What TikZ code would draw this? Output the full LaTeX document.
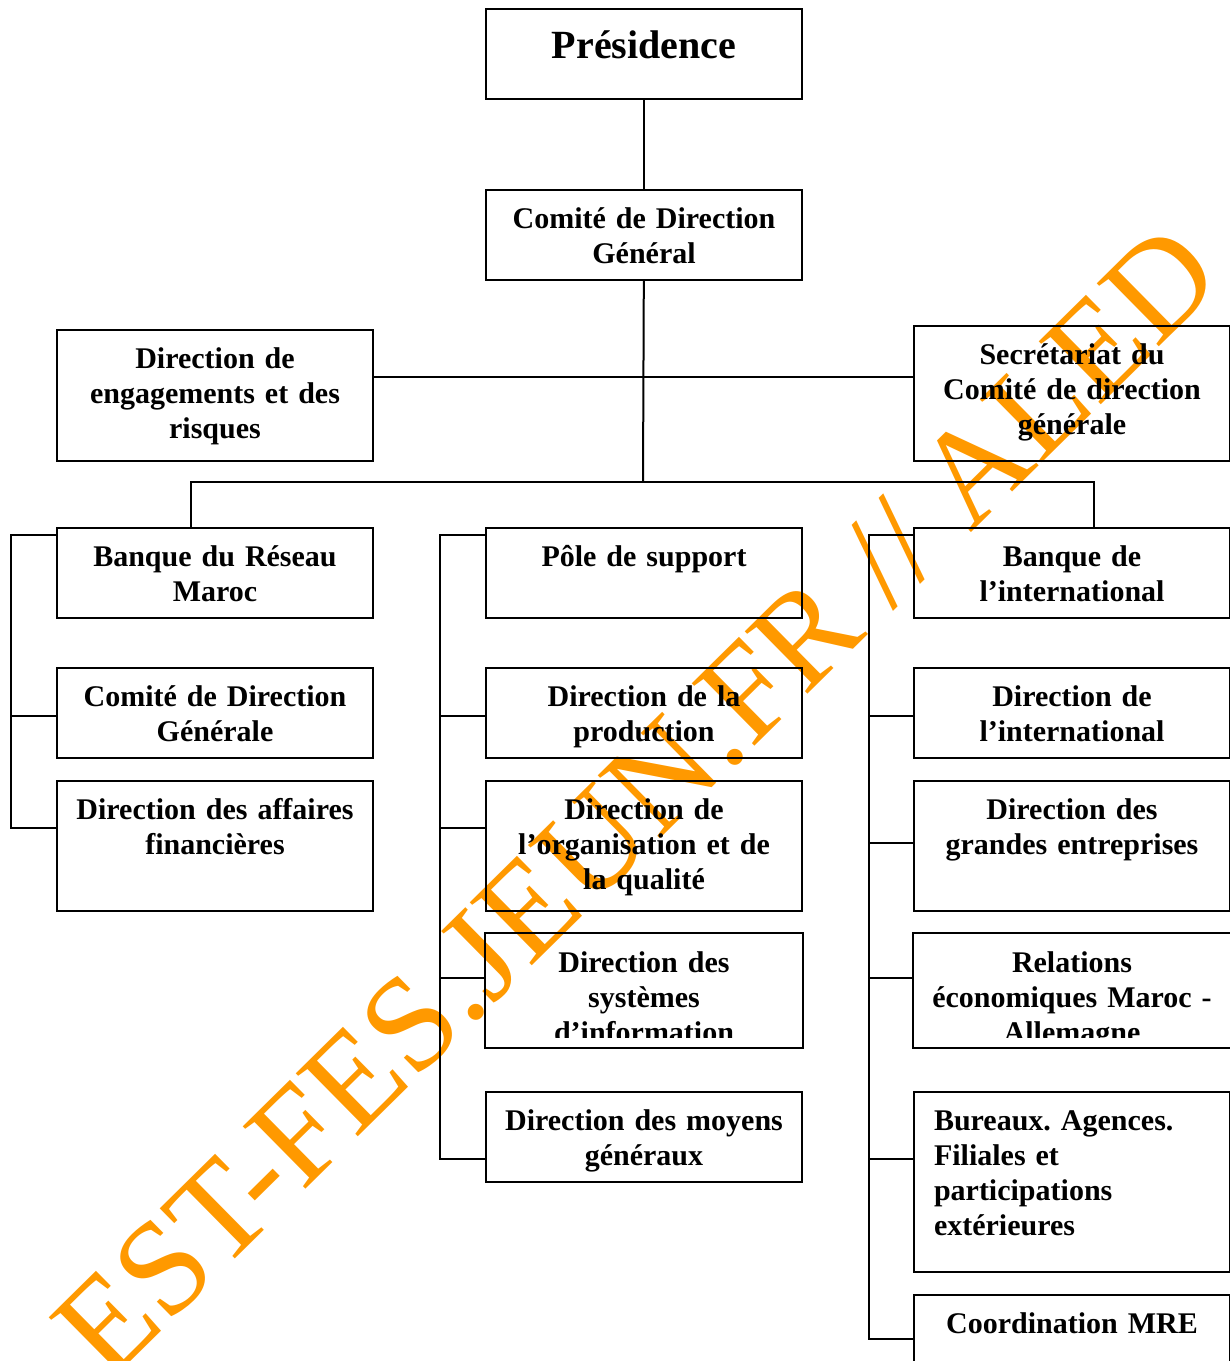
\documentclass[tikz,border=0pt]{standalone}
\usepackage{fontspec}
\setmainfont{Liberation Serif}
\usepackage{tikz}
\usetikzlibrary{positioning}
\definecolor{wmorange}{HTML}{FF9900}
\frenchspacing

\begin{document}
\begin{tikzpicture}[
  x=0.4pt, y=-0.4pt,
  font=\fontsize{12}{14}\selectfont\bfseries,
  box/.style={draw, line width=0.8pt, anchor=north west, minimum width=126.4pt, text width=118pt, align=center, inner xsep=4.2pt, inner ysep=0pt, text height=15.2pt, text depth=#1},
  box/.default=20.8pt,
  link/.style={line width=0.8pt},
  wmark/.style={text=wmorange, font=\fontsize{54}{54}\selectfont, inner sep=0pt}
]
\useasboundingbox (0,0) rectangle (1230,1361);

% watermark, under the chart
\node[wmark, rotate=44.6, anchor=base west] (wm) at (108,1384) {EST-FES.JEUN.FR // ALED};

% top of the chart
\node[box=16.4pt, text height=19.6pt, font=\fontsize{16}{19}\selectfont\bfseries] (pres) at (485,8) {Présidence};
\node[box] (cdg) at (485,189) {Comité de Direction\\Général};
\node[box=37.2pt] (dre) at (56,329) {Direction de\\engagements et des\\risques};
\node[box=38.8pt] (sec) at (913,325) {Secrétariat du\\Comité de direction\\générale};

% left column
\node[box] (brm) at (56,527) {Banque du Réseau\\Maroc};
\node[box, below=19.2pt of brm] (cdgen) {Comité de Direction\\Générale};
\node[box=36.8pt, below=8.4pt of cdgen] (daf) {Direction des affaires\\financières};

% middle column
\node[box] (pole) at (485,527) {Pôle de support};
\node[box, below=19.2pt of pole] (prod) {Direction de la\\production};
\node[box=36.8pt, below=8.4pt of prod] (orga) {Direction de\\l’organisation et de\\la qualité};

% right column
\node[box] (bint) at (913,527) {Banque de\\l’international};
\node[box, below=19.2pt of bint] (dint) {Direction de\\l’international};
\node[box=36.8pt, below=8.4pt of dint] (dge) {Direction des\\grandes entreprises};

% boxes whose last line is cut
\begin{scope}
  \clip (480,930) rectangle (1230,1037);
  \node[box=30pt, draw=none, below=8.4pt of orga] (dsi) {Direction des\\systèmes\\d’information};
  \node[box=30pt, draw=none, below=8.4pt of dge] (rel) {Relations\\économiques Maroc -\\Allemagne};
\end{scope}
\draw[link] (dsi.north west) rectangle (dsi.south east);
\draw[link] (rel.north west) rectangle (rel.south east);

\node[box, below=17.2pt of dsi] (moyens) {Direction des moyens\\généraux};
\node[box=56.8pt, below=17.2pt of rel, align=left, text width=110.4pt, inner xsep=8pt] (bur) {Bureaux. Agences.\\Filiales et\\participations\\extérieures};
\node[box, below=8.4pt of bur] (mre) {Coordination MRE};

% trunk
\coordinate (mid) at (643,377);
\coordinate (hub) at (643,482);
\coordinate (busL) at (191,482);
\coordinate (busR) at (1094,482);
\draw[link] (pres) -- (cdg);
\draw[link] (cdg) -- (hub);
\draw[link] (dre.east |- mid) -- (sec.west |- mid);
\draw[link] (brm.north -| busL) -- (busL) -- (busR) -- (bint.north -| busR);

% left bracket
\coordinate (l1) at (11,535);
\coordinate (l2) at (11,716);
\coordinate (l3) at (11,828);
\draw[link] (brm.west |- l1) -- (l1) -- (l3) -- (daf.west |- l3);
\draw[link] (l2) -- (cdgen.west |- l2);

% middle bracket
\coordinate (m1) at (440,535);
\coordinate (m2) at (440,716);
\coordinate (m3) at (440,828);
\coordinate (m4) at (440,978);
\coordinate (m5) at (440,1159);
\draw[link] (pole.west |- m1) -- (m1) -- (m5) -- (moyens.west |- m5);
\draw[link] (m2) -- (prod.west |- m2);
\draw[link] (m3) -- (orga.west |- m3);
\draw[link] (m4) -- (dsi.west |- m4);

% right bracket
\coordinate (r1) at (869,535);
\coordinate (r2) at (869,716);
\coordinate (r3) at (869,843);
\coordinate (r4) at (869,978);
\coordinate (r5) at (869,1159);
\coordinate (r6) at (869,1339);
\draw[link] (bint.west |- r1) -- (r1) -- (r6) -- (mre.west |- r6);
\draw[link] (r2) -- (dint.west |- r2);
\draw[link] (r3) -- (dge.west |- r3);
\draw[link] (r4) -- (rel.west |- r4);
\draw[link] (r5) -- (bur.west |- r5);
\end{tikzpicture}
\end{document}
